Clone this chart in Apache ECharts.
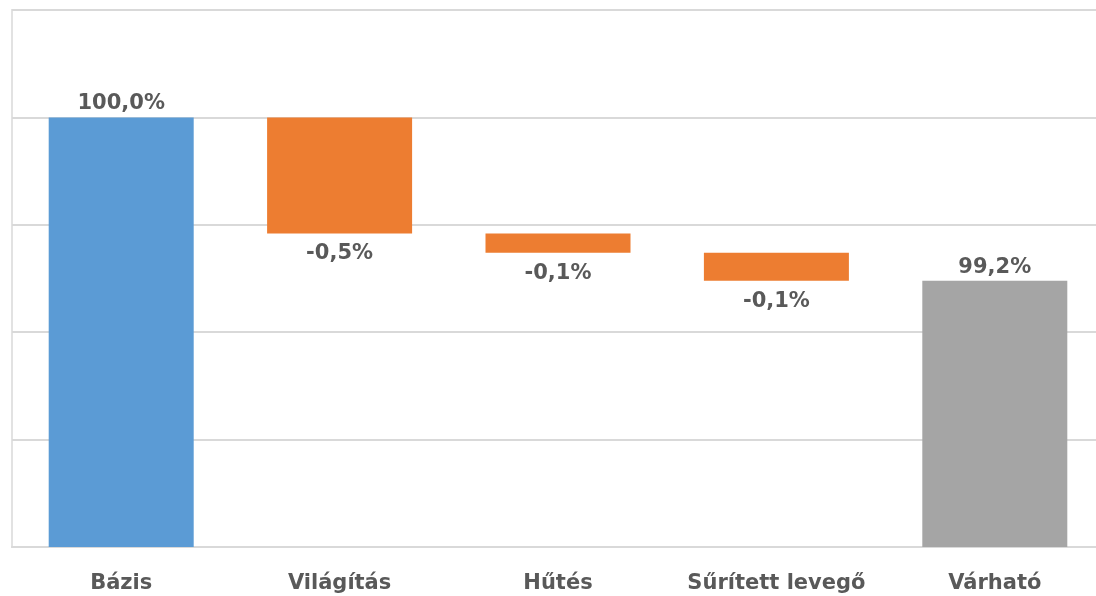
<!DOCTYPE html>
<html>
<head>
<meta charset="utf-8">
<script src="https://cdn.jsdelivr.net/npm/echarts@6/dist/echarts.min.js"></script>
<style>
  html, body { margin: 0; padding: 0; background: #fff; overflow: hidden; }
  #chart { width: 1096px; height: 596px; }
</style>
</head>
<body>
<div id="chart"></div>
<script>
// vízesés diagram adatai
const categories = ['Bázis', 'Világítás', 'Hűtés', 'Sűrített levegő', 'Várható'];
const baseValue = 100;
const changes = [-0.54, -0.09, -0.13];
const colors = ['#5B9BD5', '#ED7D31', '#ED7D31', '#ED7D31', '#A5A5A5'];

const fontFam = '"DejaVu Sans", sans-serif';

function fmt(v) {
  return v.toFixed(1).replace('.', ',') + '%';
}

// láthatatlan alap + látható oszlopok
let helper = ['-'];
let visible = [{ value: baseValue, label: { position: 'top', distance: 3 }, labelText: fmt(baseValue) }];
let level = baseValue;
changes.forEach(function (c) {
  level = level + c;
  helper.push(+level.toFixed(4));
  visible.push({ value: Math.abs(c), label: { position: 'bottom', distance: 10 }, labelText: fmt(c) });
});
helper.push('-');
visible.push({ value: +level.toFixed(4), label: { position: 'top', distance: 3 }, labelText: fmt(level) });
visible = visible.map(function (d, i) {
  d.itemStyle = { color: colors[i] };
  return d;
});

let chart = echarts.init(document.getElementById('chart'));
chart.setOption({
  animation: false,
  grid: {
    left: 12, width: 1092, top: 10, height: 537,
    outerBoundsMode: 'none',
    show: true, borderColor: '#e2e2e2', borderWidth: 2
  },
  xAxis: {
    type: 'category',
    data: categories,
    axisTick: { show: false },
    axisLine: { show: true, lineStyle: { color: '#d9d9d9', width: 2 } },
    axisLabel: {
      interval: 0,
      color: '#595959', fontSize: 21, fontWeight: 'bold',
      fontFamily: fontFam, margin: 26
    }
  },
  yAxis: {
    type: 'value',
    min: 98, max: 100.5, interval: 0.5,
    axisLabel: { show: false },
    axisLine: { show: false },
    axisTick: { show: false },
    splitLine: { lineStyle: { color: '#d9d9d9', width: 2 } }
  },
  series: [{
    type: 'bar',
    stack: 'w',
    silent: true,
    barWidth: 145,
    itemStyle: { color: 'transparent' },
    data: helper
  }, {
    type: 'bar',
    stack: 'w',
    barWidth: 145,
    label: {
      show: true,
      color: '#595959', fontSize: 21, fontWeight: 'bold',
      fontFamily: fontFam,
      formatter: function (p) { return p.data.labelText; }
    },
    data: visible
  }]
});
</script>
</body>
</html>
